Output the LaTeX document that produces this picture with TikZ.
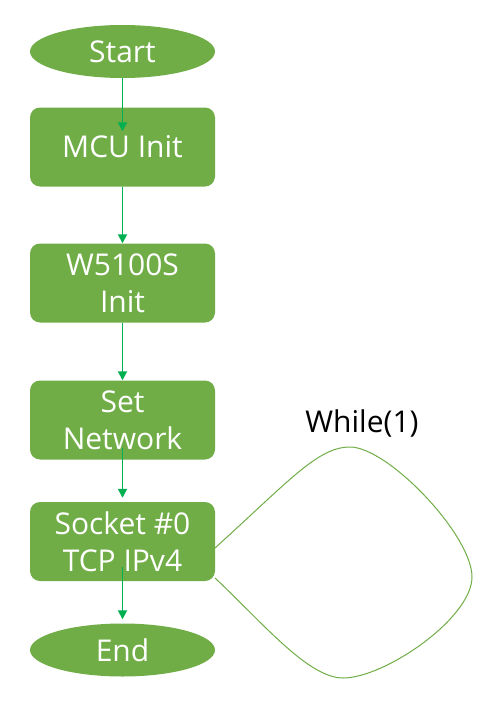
\documentclass[tikz,border=0pt]{standalone}
\usepackage{fontspec}
\setmainfont{Open Sans}
\usetikzlibrary{shapes.geometric,arrows.meta}
\definecolor{gfill}{HTML}{70AD47}
\definecolor{garrow}{HTML}{00B050}
\begin{document}
\begin{tikzpicture}[x=1pt,y=-1pt,
  box/.style={fill=gfill, rounded corners=10pt, minimum width=185pt, minimum height=79pt,
    text=white, font=\fontsize{30}{37}\selectfont, align=center, inner sep=0pt},
  term/.style={ellipse, fill=gfill, minimum width=185pt, minimum height=53pt,
    text=white, font=\fontsize{30}{37}\selectfont, inner sep=0pt},
  arr/.style={draw=garrow, line width=1.8pt, -{Triangle[length=9pt,width=9pt]}},
  loopline/.style={draw=gfill, line width=1pt}]
\useasboundingbox (0,0) rectangle (496,723);
\node[term] (start) at (122.5,51.5) {Start};
\node[box] (mcu) at (122.5,147) {MCU Init};
\node[box] (w5100) at (122.5,283) {W5100S\\Init};
\node[box] (net) at (122.5,420) {Set\\Network};
\node[box] (sock) at (122.5,541.5) {Socket \#0\\TCP IPv4};
\node[term] (end) at (122.5,650) {End};
\node[font=\fontsize{30}{37}\selectfont, text=black] (while) at (362,423) {While(1)};
\coordinate (la) at (215,548);
\coordinate (lb) at (215,578);
\draw[loopline] (la) .. controls (290,480) and (318,447) .. (350,447)
  .. controls (388,447) and (472,535) .. (472,577)
  .. controls (472,618) and (385,678) .. (343,678)
  .. controls (308,678) and (262,622) .. (lb);
\draw[arr] (start.south) -- ([yshift=-24pt]mcu.north);
\draw[arr] (mcu.south) -- (w5100.north);
\draw[arr] (w5100.south) -- (net.north);
\draw[arr] ([yshift=12pt]net.south) -- ([yshift=4pt]sock.north);
\draw[arr] ([yshift=14pt]sock.south) -- ([yshift=4pt]end.north);
\end{tikzpicture}
\end{document}
